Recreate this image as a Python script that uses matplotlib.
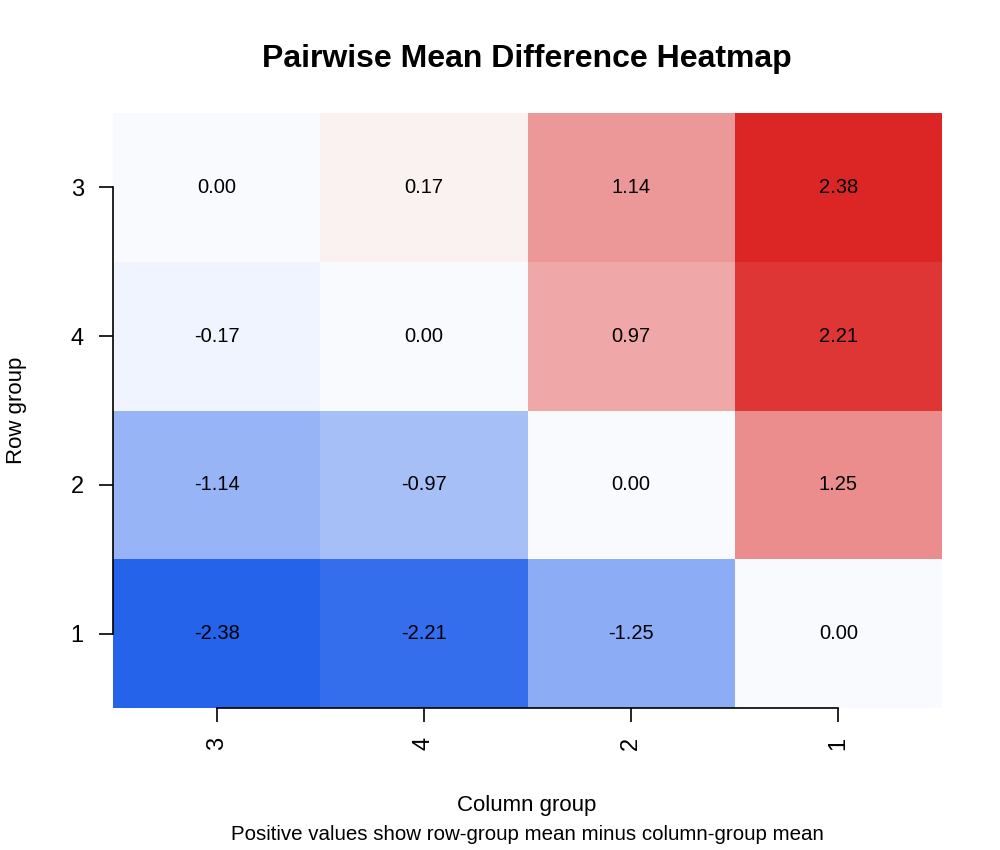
import numpy as np
import matplotlib.pyplot as plt
from matplotlib.colors import LinearSegmentedColormap

plt.rcParams['font.family'] = ['Liberation Sans', 'DejaVu Sans']

# groups, ordered as in the chart
row_groups = ["3", "4", "2", "1"]   # top to bottom
col_groups = ["3", "4", "2", "1"]   # left to right

# row-group mean minus column-group mean
diffs = [
    [0.00, 0.17, 1.14, 2.38],
    [-0.17, 0.00, 0.97, 2.21],
    [-1.14, -0.97, 0.00, 1.25],
    [-2.38, -2.21, -1.25, 0.00],
]

vals = np.array(diffs)
lim = np.abs(vals).max()
cmap = LinearSegmentedColormap.from_list(
    "bwr_soft",
    [(0.0, "#2563EB"), (0.46, "#EFF4FE"), (0.5, "#F8FAFF"), (0.54, "#FAF0F0"), (1.0, "#DC2626")])

fig = plt.figure(figsize=(10, 8.5), dpi=100)
ax = fig.add_axes([0.113, (850 - 708) / 850, 0.829, (708 - 113) / 850])

nr, nc = vals.shape
ax.pcolormesh(np.arange(nc + 1), np.arange(nr + 1), vals[::-1], cmap=cmap,
              vmin=-lim, vmax=lim, shading="flat")
for i in range(nr):
    for j in range(nc):
        ax.text(j + 0.5, nr - i - 0.5, f"{vals[i, j]:.2f}", ha="center", va="center",
                fontsize=14.5, color="black")

ax.set_xlim(0, nc)
ax.set_ylim(0, nr)
ax.set_xticks(np.arange(nc) + 0.5)
ax.set_xticklabels(col_groups, rotation=90, fontsize=17)
ax.set_yticks(np.arange(nr) + 0.5)
ax.set_yticklabels(row_groups[::-1], fontsize=17)
ax.tick_params(length=10, width=1.2, pad=11)

# R-style axis lines spanning the ticks only
for s in ["top", "right"]:
    ax.spines[s].set_visible(False)
ax.spines["left"].set_bounds(0.5, nr - 0.5)
ax.spines["bottom"].set_bounds(0.5, nc - 0.5)
ax.spines["left"].set_linewidth(1.2)
ax.spines["bottom"].set_linewidth(1.2)

fig.text(0.527, 1 - 59 / 850, "Pairwise Mean Difference Heatmap", ha="center", va="center",
         fontsize=23, fontweight="bold")
fig.text(0.527, 1 - 806 / 850, "Column group", ha="center", va="center", fontsize=16)
fig.text(0.527, 1 - 834 / 850, "Positive values show row-group mean minus column-group mean",
         ha="center", va="center", fontsize=14.8)
fig.text(0.017, 1 - 410 / 850, "Row group", ha="center", va="center", rotation=90, fontsize=16)

fig.savefig("out.png", dpi=100)
